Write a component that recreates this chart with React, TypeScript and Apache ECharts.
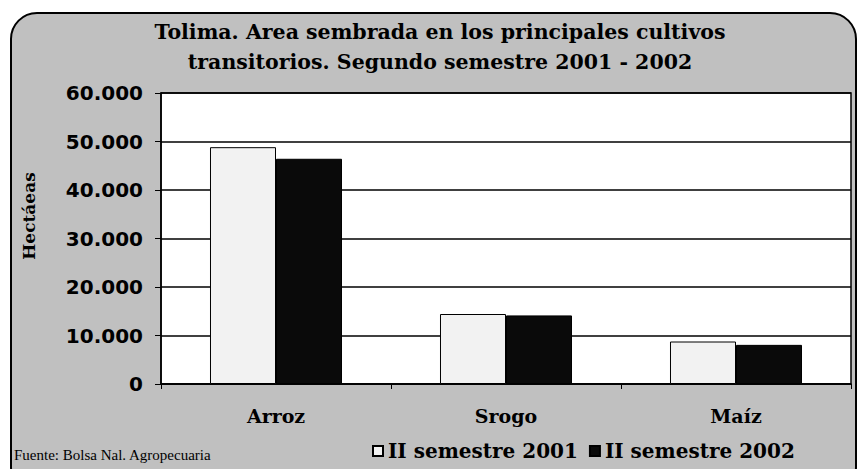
import React, { useEffect, useRef } from "react";
import * as echarts from "echarts";

const categories = ["Arroz", "Srogo", "Maíz"];
const seriesNames = ["II semestre 2001", "II semestre 2002"];
const values2001 = [48830, 14430, 8760];
const values2002 = [46440, 14140, 8070];
const yTicks = { min: 0, max: 60000, interval: 10000 };
const titleLines = [
  "Tolima. Area sembrada en los principales cultivos",
  "transitorios. Segundo semestre 2001 - 2002",
];
const yAxisName = "Hectáeas";
const sourceText = "Fuente: Bolsa Nal. Agropecuaria";

export default function App() {
  const ref = useRef<HTMLDivElement>(null);
  useEffect(() => {
    if (!ref.current) return;
    const chart = echarts.init(ref.current, null, { renderer: "svg" });
    const serif = "'DejaVu Serif', serif";
    const sans = "'DejaVu Sans', sans-serif";
    chart.setOption({
      animation: false,
      backgroundColor: "#ffffff",
      graphic: [
        {
          type: "rect",
          z: -10,
          shape: { x: 11, y: 13, width: 845, height: 480, r: 26 },
          style: { fill: "#c0c0c0", stroke: "#000", lineWidth: 2 },
        },
        {
          type: "text",
          x: 440,
          y: 32,
          style: {
            text: titleLines[0],
            fontFamily: serif,
            fontWeight: "bold",
            fontSize: 20.5,
            fill: "#000",
            align: "center",
            verticalAlign: "middle",
          },
        },
        {
          type: "text",
          x: 440,
          y: 62,
          style: {
            text: titleLines[1],
            fontFamily: serif,
            fontWeight: "bold",
            fontSize: 20.5,
            fill: "#000",
            align: "center",
            verticalAlign: "middle",
          },
        },
        {
          type: "text",
          x: 29,
          y: 216,
          rotation: Math.PI / 2,
          style: {
            text: yAxisName,
            fontFamily: serif,
            fontWeight: "bold",
            fontSize: 17,
            fill: "#000",
            align: "center",
            verticalAlign: "middle",
          },
        },
        {
          type: "text",
          x: 14,
          y: 455,
          style: {
            text: sourceText,
            fontFamily: "'Liberation Serif', serif",
            fontSize: 15,
            fill: "#000",
            align: "left",
            verticalAlign: "middle",
          },
        },
      ],
      legend: {
        data: seriesNames,
        left: 372,
        top: 441,
        icon: "rect",
        itemWidth: 10,
        itemHeight: 10,
        itemGap: 11,
        padding: 0,
        textStyle: {
          fontFamily: serif,
          fontWeight: "bold",
          fontSize: 20,
          color: "#000",
        },
      },
      grid: {
        left: 161,
        right: 7,
        top: 93,
        bottom: 469 - 384,
        show: true,
        backgroundColor: "#ffffff",
        borderColor: "#000",
        borderWidth: 1.5,
      },
      xAxis: {
        type: "category",
        data: categories,
        axisLine: { lineStyle: { color: "#000", width: 1.5 } },
        axisTick: { show: true, length: 5, inside: false, lineStyle: { color: "#000" } },
        axisLabel: {
          margin: 22,
          fontFamily: serif,
          fontWeight: "bold",
          fontSize: 19,
          color: "#000",
        },
      },
      yAxis: {
        type: "value",
        min: yTicks.min,
        max: yTicks.max,
        interval: yTicks.interval,
        axisLine: { show: true, lineStyle: { color: "#000", width: 1.5 } },
        axisTick: { show: true, length: 6, lineStyle: { color: "#000" } },
        splitLine: { lineStyle: { color: "#000", width: 1.5 } },
        axisLabel: {
          margin: 18,
          fontFamily: sans,
          fontWeight: "bold",
          fontSize: 20,
          color: "#000",
          formatter: (v: number) =>
            String(v).replace(/\B(?=(\d{3})+(?!\d))/g, "."),
        },
      },
      series: [
        {
          name: seriesNames[0],
          type: "bar",
          data: values2001,
          barGap: "0%",
          barCategoryGap: "42.6%",
          itemStyle: { color: "#f2f2f2", borderColor: "#000", borderWidth: 1 },
        },
        {
          name: seriesNames[1],
          type: "bar",
          data: values2002,
          itemStyle: { color: "#0a0a0a", borderColor: "#000", borderWidth: 1 },
        },
      ],
    });
    return () => chart.dispose();
  }, []);
  return (
    <div
      ref={ref}
      style={{ position: "fixed", left: 0, top: 0, width: 858, height: 469 }}
    />
  );
}
